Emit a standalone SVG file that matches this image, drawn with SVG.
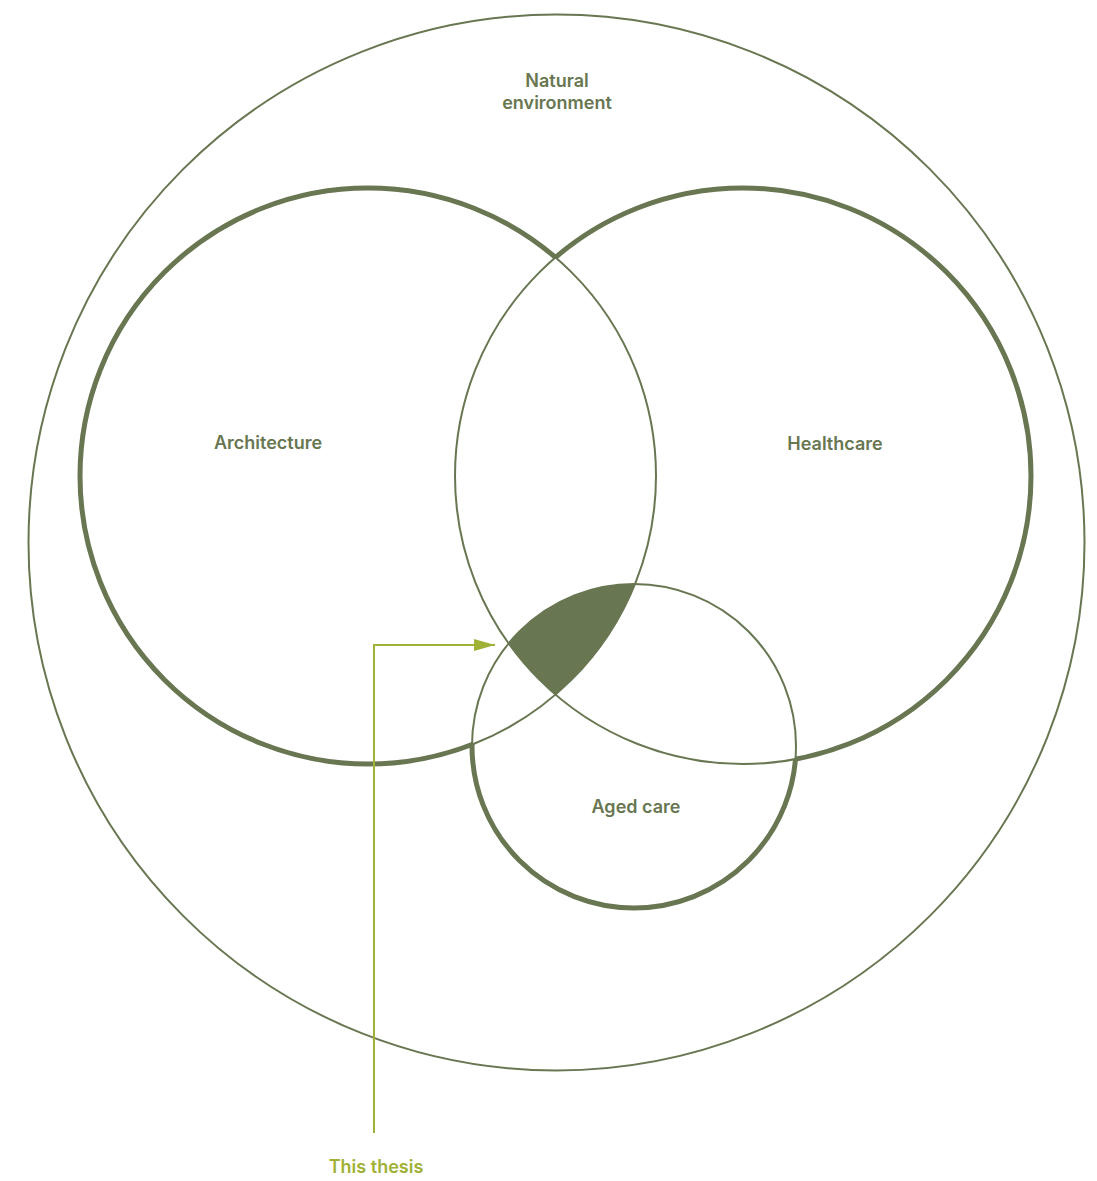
<svg xmlns="http://www.w3.org/2000/svg" width="1097" height="1181" viewBox="0 0 1097 1181">
<style>
.thin{fill:none;stroke:#687651;stroke-width:2}
.thick{fill:none;stroke:#687651;stroke-width:5}
.lbl{font-family:Inter,"Liberation Sans",sans-serif;font-size:18px;font-weight:600;fill:#687651;text-anchor:middle}
.acc{font-family:Inter,"Liberation Sans",sans-serif;font-size:18px;font-weight:600;fill:#a0b136;text-anchor:middle}
.conn{fill:none;stroke:#a0b136;stroke-width:2}
</style>
<defs>
<mask id="mA" maskUnits="userSpaceOnUse" x="0" y="0" width="1097" height="1181">
<rect width="1097" height="1181" fill="#fff"/>
<circle cx="743" cy="476" r="288" fill="#000"/>
<circle cx="634" cy="746" r="162" fill="#000"/>
</mask>
<mask id="mH" maskUnits="userSpaceOnUse" x="0" y="0" width="1097" height="1181">
<rect width="1097" height="1181" fill="#fff"/>
<circle cx="368" cy="476" r="288" fill="#000"/>
<circle cx="634" cy="746" r="162" fill="#000"/>
</mask>
<mask id="mC" maskUnits="userSpaceOnUse" x="0" y="0" width="1097" height="1181">
<rect width="1097" height="1181" fill="#fff"/>
<circle cx="368" cy="476" r="288" fill="#000"/>
<circle cx="743" cy="476" r="288" fill="#000"/>
</mask>
<marker id="arr" markerUnits="userSpaceOnUse" markerWidth="22" markerHeight="14" refX="21" refY="6" orient="auto">
<path d="M0,0 L21,6 L0,12 z" fill="#a0b136"/>
</marker>
</defs>
<rect width="1097" height="1181" fill="#fff"/>

<g id="natural-environment">
<circle class="thin" cx="556.5" cy="542.5" r="528"/>
<text class="lbl" x="557" y="87">Natural</text>
<text class="lbl" x="557" y="109">environment</text>
</g>

<g id="architecture">
<circle class="thin" cx="368" cy="476" r="288"/>
<circle class="thick" cx="368" cy="476" r="288" mask="url(#mA)"/>
<text class="lbl" x="268" y="449">Architecture</text>
</g>

<g id="healthcare">
<circle class="thin" cx="743" cy="476" r="288"/>
<circle class="thick" cx="743" cy="476" r="288" mask="url(#mH)"/>
<text class="lbl" x="835" y="450">Healthcare</text>
</g>

<g id="aged-care">
<circle class="thin" cx="634" cy="746" r="162"/>
<circle class="thick" cx="634" cy="746" r="162" mask="url(#mC)"/>
<text class="lbl" x="636" y="813">Aged care</text>
</g>

<g id="overlap">
<path d="M508.6,643.4 A162,162 0 0 1 635,584 A288,288 0 0 1 555.5,694.6 A288,288 0 0 1 508.6,643.4 Z" fill="#687651"/>
</g>

<g id="connectors">
<polyline class="conn" points="374,1133 374,645 495,645" marker-end="url(#arr)"/>
</g>

<g id="this-thesis">
<text class="acc" x="376" y="1173">This thesis</text>
</g>
</svg>
